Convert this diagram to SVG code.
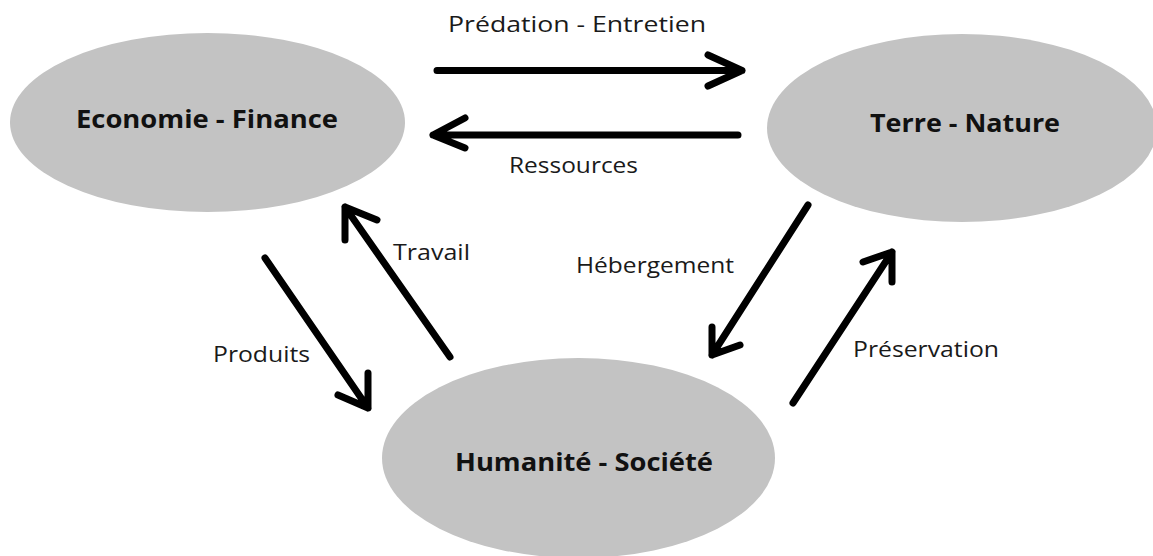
<svg xmlns="http://www.w3.org/2000/svg" width="1153" height="556" viewBox="0 0 1153 556">
<style>
.bg{fill:#ffffff}
.node{fill:#c3c3c3;stroke:none}
.ntext{font-family:"Open Sans","Liberation Sans",sans-serif;font-weight:bold;font-size:25px;fill:#111111}
.lbl{font-family:"Open Sans","Liberation Sans",sans-serif;font-size:22px;fill:#1a1a1a}
.arr{fill:none;stroke:#000000;stroke-width:7;stroke-linecap:round;stroke-linejoin:round}
</style>
<rect class="bg" x="0" y="0" width="1153" height="556"/>
<g id="node-economie">
<ellipse class="node" cx="207.5" cy="122.5" rx="197.5" ry="89.5"/>
<text class="ntext" x="76" y="128" textLength="262" lengthAdjust="spacingAndGlyphs">Economie - Finance</text>
</g>
<g id="node-terre">
<ellipse class="node" cx="962" cy="128" rx="195" ry="94"/>
<text class="ntext" x="870" y="132" textLength="190" lengthAdjust="spacingAndGlyphs">Terre - Nature</text>
</g>
<g id="node-humanite">
<ellipse class="node" cx="578.5" cy="458" rx="196.5" ry="100"/>
<text class="ntext" x="455" y="471" textLength="258" lengthAdjust="spacingAndGlyphs">Humanité - Société</text>
</g>
<g id="connectors">
<g id="edge-predation">
<path class="arr" d="M437,70.5 L742,70.5 M708,55 L742,70.5 L708,86"/>
<text class="lbl" x="448" y="32" textLength="258" lengthAdjust="spacingAndGlyphs">Prédation - Entretien</text>
</g>
<g id="edge-ressources">
<path class="arr" d="M738,135 L433,135 M465,118 L433,135 L465,148"/>
<text class="lbl" x="509" y="173" textLength="129" lengthAdjust="spacingAndGlyphs">Ressources</text>
</g>
<g id="edge-travail">
<path class="arr" d="M450,357 L345,207 M345,240 L345,207 L377,220"/>
<text class="lbl" x="393" y="260" textLength="77" lengthAdjust="spacingAndGlyphs">Travail</text>
</g>
<g id="edge-produits">
<path class="arr" d="M265,258 L368,408 M368,373 L368,408 L338,395"/>
<text class="lbl" x="213" y="362" textLength="97" lengthAdjust="spacingAndGlyphs">Produits</text>
</g>
<g id="edge-hebergement">
<path class="arr" d="M808,205 L712,355 M712,327 L712,355 L740,345"/>
<text class="lbl" x="576" y="273" textLength="158" lengthAdjust="spacingAndGlyphs">Hébergement</text>
</g>
<g id="edge-preservation">
<path class="arr" d="M793,403 L892,252 M863,262 L892,252 L892,282"/>
<text class="lbl" x="853" y="357" textLength="146" lengthAdjust="spacingAndGlyphs">Préservation</text>
</g>
</g>
</svg>
